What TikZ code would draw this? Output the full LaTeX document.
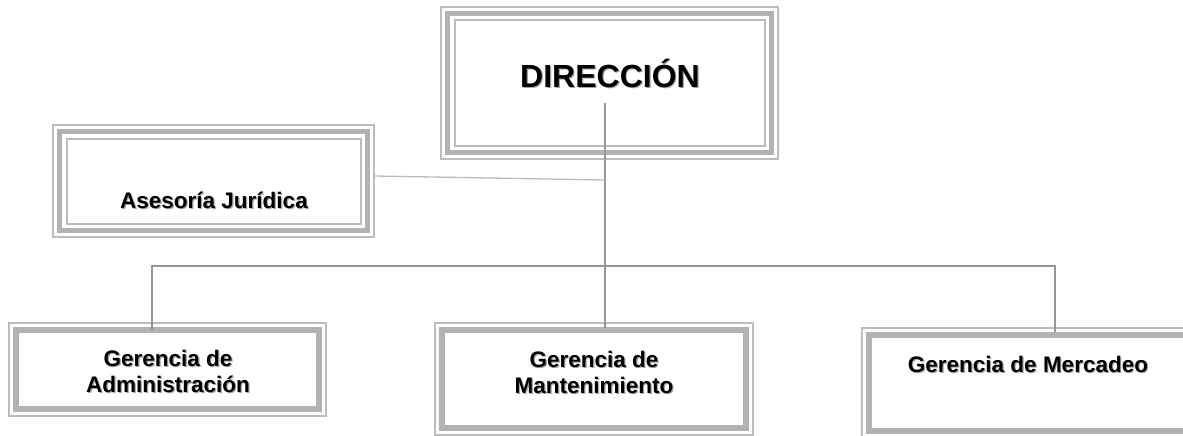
\documentclass[tikz,border=0pt]{standalone}
\usepackage{fontspec}
\setmainfont{Liberation Sans}
\usepackage{xcolor}
\usetikzlibrary{positioning}
\definecolor{boxgray}{RGB}{178,178,178}
\definecolor{linegray}{RGB}{188,188,188}
\definecolor{linkgray}{RGB}{150,150,150}
\definecolor{shadegray}{RGB}{165,165,165}
% text with a light drop shadow
\newcommand{\shadowed}[1]{\rlap{\hspace{1.2pt}\raisebox{-1.2pt}{\color{shadegray}#1}}#1}

\begin{document}
\begin{tikzpicture}[x=1pt, y=-1pt,
    org box/.style={draw=linegray, line width=1.5pt, inner sep=0pt,
      path picture={\draw[boxgray, line width=6pt]
        ([shift={(7pt,-7pt)}]path picture bounding box.north west) rectangle
        ([shift={(-7pt,7pt)}]path picture bounding box.south east);}},
    org triple/.style={draw=linegray, line width=1.5pt, inner sep=0pt,
      path picture={\draw[boxgray, line width=5pt]
        ([shift={(6.5pt,-6.5pt)}]path picture bounding box.north west) rectangle
        ([shift={(-6.5pt,6.5pt)}]path picture bounding box.south east);
        \draw[linegray, line width=2pt]
        ([shift={(13.5pt,-13.5pt)}]path picture bounding box.north west) rectangle
        ([shift={(-13.5pt,13.5pt)}]path picture bounding box.south east);}},
    org title/.style={font=\fontsize{32}{36}\selectfont\bfseries, inner sep=0pt},
    org text/.style={font=\fontsize{22.5}{26}\selectfont\bfseries, align=center, inner sep=0pt},
    link/.style={draw=linkgray, line width=1.6pt},
    sublink/.style={draw=linegray, line width=1.3pt}]
  \useasboundingbox (0,0) rectangle (1183,436);

  % boxes
  \node[org triple, minimum width=337pt, minimum height=152pt] (dir) at (609.5,83) {};
  \node[org title, anchor=base] (dirtxt) at (610,87) {\shadowed{DIRECCIÓN}};

  \node[org triple, minimum width=321pt, minimum height=112pt] (ases) at (213.5,181) {};
  \node[org text, anchor=base] (asestxt) at (214,208) {\shadowed{Asesoría Jurídica}};

  \node[org box, minimum width=317pt, minimum height=93pt] (admin) at (167.5,369.5) {};
  \node[org text] (admintxt) at (168,372) {\shadowed{Gerencia de}\\\shadowed{Administración}};

  \node[org box, minimum width=318pt, minimum height=112pt] (mant) at (594,379) {};
  \node[org text] (manttxt) at (594,373) {\shadowed{Gerencia de}\\\shadowed{Mantenimiento}};

  \node[org box, minimum width=334pt, minimum height=110pt] (merc) at (1029,383) {};
  \node[org text, anchor=base] (merctxt) at (1028,372) {\shadowed{Gerencia de Mercadeo}};

  % connectors
  \coordinate (dirfoot) at (605,103);
  \coordinate (asesjoin) at (605,180);
  \coordinate (busL) at (152,266);
  \coordinate (busR) at (1055,266);
  \draw[link] (dirfoot) -- ([yshift=-6pt]dirfoot |- mant.north);
  \draw[link] ([yshift=-8pt]admin.north -| busL) -- (busL) -- (busR) -- ([yshift=-5pt]busR |- merc.north);
  \draw[sublink] ([yshift=5pt]ases.east) -- (asesjoin);
\end{tikzpicture}
\end{document}
